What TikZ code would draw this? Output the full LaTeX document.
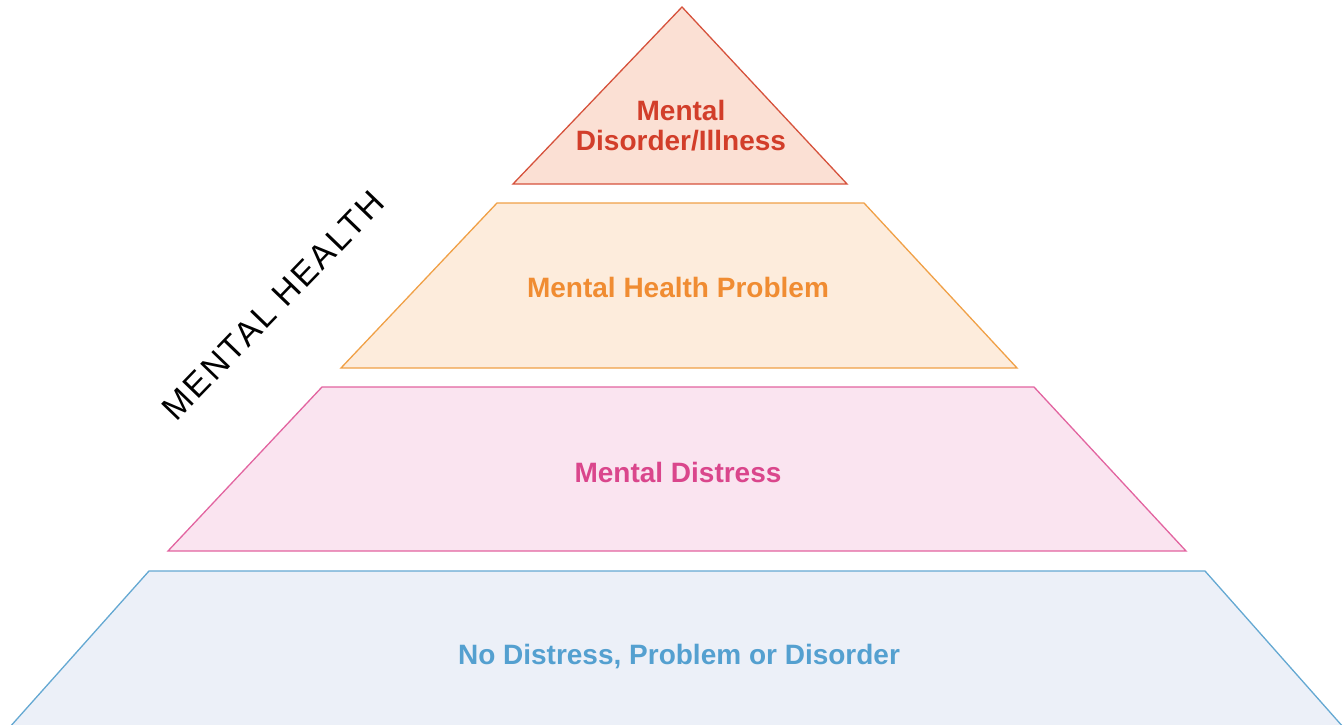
\documentclass[tikz,border=0pt]{standalone}
\usepackage{fontspec}
\setmainfont{Liberation Sans}
\newfontfamily\axisfont[LetterSpace=7]{Liberation Sans}
\definecolor{illline}{RGB}{214,82,60}
\definecolor{illfill}{RGB}{251,224,212}
\definecolor{illtext}{RGB}{210,62,42}
\definecolor{probline}{RGB}{240,160,70}
\definecolor{probfill}{RGB}{253,236,220}
\definecolor{probtext}{RGB}{240,140,50}
\definecolor{distline}{RGB}{226,100,160}
\definecolor{distfill}{RGB}{250,228,240}
\definecolor{disttext}{RGB}{218,70,140}
\definecolor{wellline}{RGB}{100,168,210}
\definecolor{wellfill}{RGB}{236,240,248}
\definecolor{welltext}{RGB}{84,160,208}

\begin{document}
\begin{tikzpicture}[x=1pt,y=-1pt,
  tier/.style={line width=1.3pt,line join=miter},
  tierlabel/.style={font=\bfseries\fontsize{28}{30}\selectfont,align=center}]
\useasboundingbox (0,0) rectangle (1343,725);

\draw[tier,draw=illline,fill=illfill] (682,7) -- (847,184) -- (513,184) -- cycle;
\draw[tier,draw=probline,fill=probfill] (497,203) -- (864,203) -- (1017,368) -- (341,368) -- cycle;
\draw[tier,draw=distline,fill=distfill] (322,387) -- (1034,387) -- (1186,551) -- (168,551) -- cycle;
\draw[tier,draw=wellline,fill=wellfill] (149,571) -- (1205,571) -- (1344,728) -- (9,728) -- cycle;

\node[tierlabel,text=illtext] (illness) at (681,126) {Mental\\Disorder/Illness};
\node[tierlabel,text=probtext] (problem) at (678,287) {Mental Health Problem};
\node[tierlabel,text=disttext] (distress) at (678,472) {Mental Distress};
\node[tierlabel,text=welltext] (wellness) at (679,657) {No Distress, Problem or Disorder};

\node[font=\axisfont\fontsize{34}{34}\selectfont,rotate=46] (axis) at (273,306) {MENTAL HEALTH};
\end{tikzpicture}
\end{document}
